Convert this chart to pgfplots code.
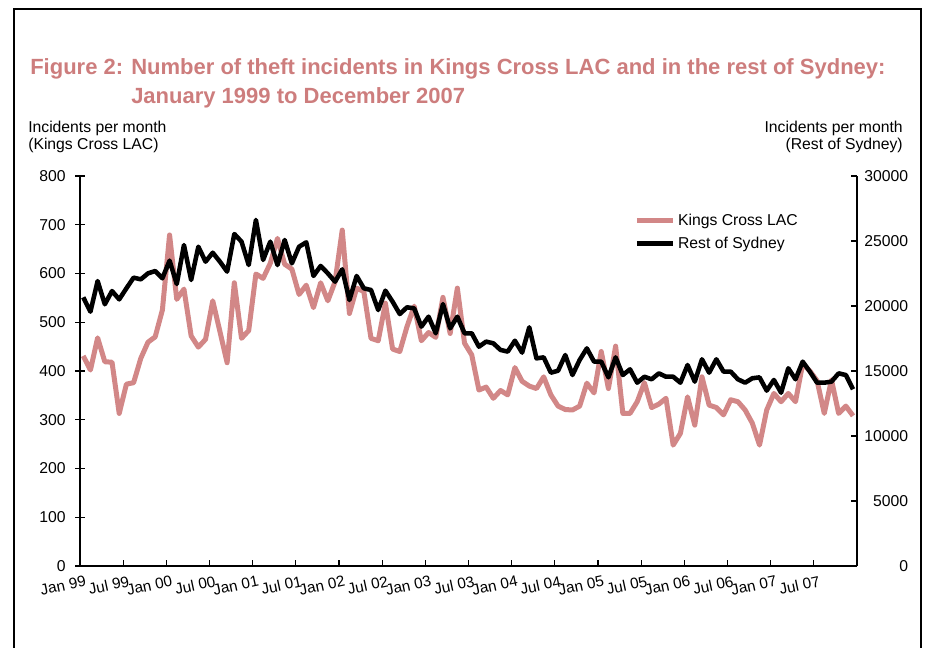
\documentclass[border=0pt]{standalone}
\usepackage{fontspec}
\setmainfont{Liberation Sans}
\usepackage{pgfplots}
\pgfplotsset{compat=1.18}
\usepackage{pgfplotstable}
\definecolor{kc}{RGB}{210,135,135}
\definecolor{ttl}{RGB}{205,125,125}

\pgfplotstableread{
k r
431 20670
402 19560
468 21920
419 20130
418 21150
313 20510
373 21360
376 22180
426 22050
459 22510
470 22690
525 22130
679 23490
547 21690
568 24690
472 22000
449 24560
465 23410
544 24100
481 23410
417 22640
581 25540
467 24950
483 23150
599 26620
590 23540
621 24950
672 23150
619 25080
609 23280
557 24560
576 24900
530 22310
581 23080
544 22510
583 21870
689 22820
518 20460
570 22310
563 21360
467 21230
462 19690
539 21180
445 20330
440 19380
491 19900
533 19820
462 18410
479 19180
469 17900
551 20150
477 18280
570 19180
457 17900
433 17900
361 16870
367 17260
344 17130
360 16620
351 16490
407 17330
379 16410
369 18360
364 15970
388 16050
351 14870
328 15020
321 16230
320 14690
328 15850
375 16740
355 15720
440 15720
364 14510
451 16050
313 14690
313 15130
337 14100
376 14560
325 14360
332 14820
344 14560
248 14560
272 14100
347 15460
289 14180
388 15900
330 14870
325 15900
310 14950
341 14950
337 14360
320 14100
293 14440
248 14510
320 13490
354 14310
337 13330
354 15210
337 14360
415 15720
400 14950
380 14100
313 14100
382 14180
313 14820
328 14690
308 13590
}\data

\newcommand{\lf}{\fontsize{11.8}{14}\selectfont}

\begin{document}
\begin{tikzpicture}
\path[use as bounding box] (0,0) rectangle (696pt,486pt);
\draw[line width=1.5pt] (10.5pt,0pt) -- (10.5pt,479pt) -- (690.75pt,479pt) -- (690.75pt,0pt);

\node[anchor=base west, inner sep=0pt, text=ttl, font=\fontsize{16.5}{20}\selectfont\bfseries] at (22.5pt,429.75pt) {Figure 2: Number of theft incidents in Kings Cross LAC and in the rest of Sydney:};
\node[anchor=base west, inner sep=0pt, text=ttl, font=\fontsize{16.5}{20}\selectfont\bfseries] at (98.25pt,408pt) {January 1999 to December 2007};

\node[anchor=base west, inner sep=0pt, font=\lf] at (21pt,386.6pt) {Incidents per month};
\node[anchor=base west, inner sep=0pt, font=\lf] at (21pt,373.5pt) {(Kings Cross LAC)};
\node[anchor=base east, inner sep=0pt, font=\lf] at (677.25pt,386.6pt) {Incidents per month};
\node[anchor=base east, inner sep=0pt, font=\lf] at (677.25pt,373.5pt) {(Rest of Sydney)};

\begin{axis}[
  at={(60pt,61.5pt)}, anchor=south west, scale only axis,
  width=582.75pt, height=292.5pt,
  xmin=0, xmax=108, ymin=0, ymax=800,
  axis y line=left, axis x line=none,
  axis line style={-, line width=1.2pt},
  ytick={0,100,...,800},
  tick align=center, major tick length=7.5pt,
  tick style={line width=0.9pt, black},
  /pgf/number format/assume math mode=true,
  yticklabel style={font=\lf, inner sep=0pt, anchor=east, xshift=-6.75pt},
]
\addplot[kc, line width=3.75pt, line join=round, no markers] table[x expr=\coordindex+0.45, y=k] {\data};
\end{axis}

\begin{axis}[
  at={(60pt,61.5pt)}, anchor=south west, scale only axis,
  width=582.75pt, height=292.5pt,
  xmin=0, xmax=108, ymin=0, ymax=30000,
  axis y line=right, axis x line=bottom,
  axis line style={-, line width=1.2pt},
  ytick={0,5000,...,30000},
  xtick={0,6,...,102},
  xticklabels={Jan 99,Jul 99,Jan 00,Jul 00,Jan 01,Jul 01,Jan 02,Jul 02,Jan 03,Jul 03,Jan 04,Jul 04,Jan 05,Jul 05,Jan 06,Jul 06,Jan 07,Jul 07},
  tick align=inside, major tick length=4.5pt,
  tick style={line width=0.9pt, black},
  /pgf/number format/assume math mode=true,
  /pgf/number format/1000 sep={},
  scaled y ticks=false,
  yticklabel style={font=\lf, inner sep=0pt, anchor=east, xshift=38.5pt},
  xticklabel style={font=\fontsize{11.5}{14}\selectfont, inner sep=0pt, rotate=12, anchor=north east, xshift=2pt, yshift=-7.5pt},
  legend style={draw=none, fill=none, at={(0.708,0.917)}, anchor=north west, font=\lf, row sep=3pt},
  legend cell align=left,
  legend image code/.code={\draw[#1] (-3pt,0pt) -- (24pt,0pt);},
]
\addlegendimage{kc, line width=3.75pt}
\addlegendentry{Kings Cross LAC}
\addplot[black, line width=3.4pt, line join=round, no markers] table[x expr=\coordindex+0.45, y=r] {\data};
\addlegendentry{Rest of Sydney}
\end{axis}
\end{tikzpicture}
\end{document}
